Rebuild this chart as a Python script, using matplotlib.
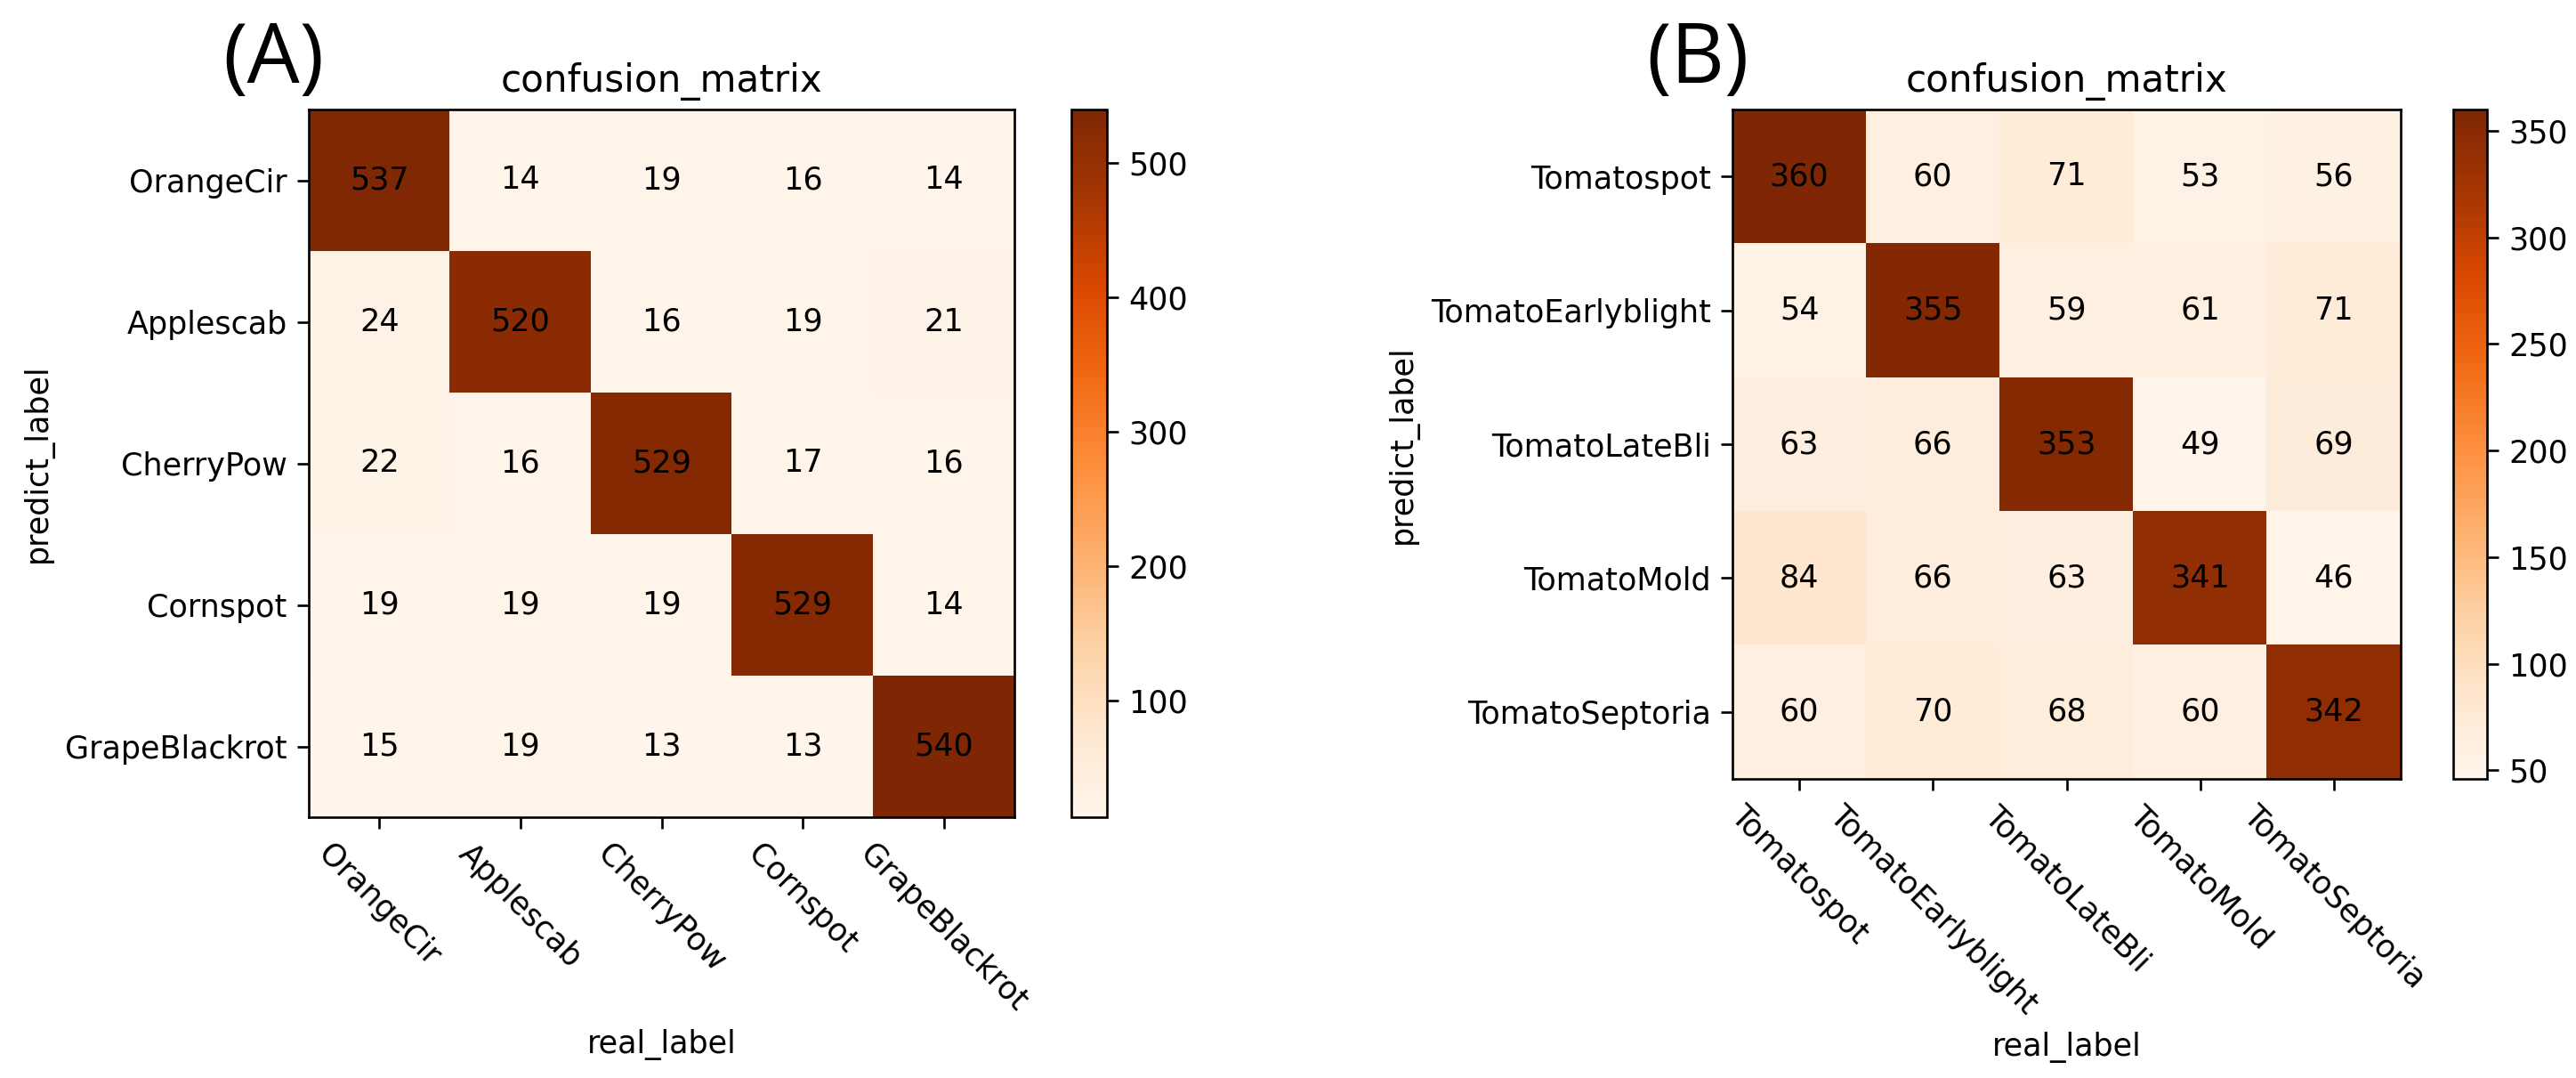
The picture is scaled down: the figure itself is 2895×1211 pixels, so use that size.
import matplotlib
matplotlib.use("Agg")
import matplotlib.pyplot as plt
import numpy as np

# ---- data ----
classes_a = ["OrangeCir", "Applescab", "CherryPow", "Cornspot", "GrapeBlackrot"]
cm_a_row0 = [537, 14, 19, 16, 14]
cm_a_row1 = [24, 520, 16, 19, 21]
cm_a_row2 = [22, 16, 529, 17, 16]
cm_a_row3 = [19, 19, 19, 529, 14]
cm_a_row4 = [15, 19, 13, 13, 540]

classes_b = ["Tomatospot", "TomatoEarlyblight", "TomatoLateBli", "TomatoMold", "TomatoSeptoria"]
cm_b_row0 = [360, 60, 71, 53, 56]
cm_b_row1 = [54, 355, 59, 61, 71]
cm_b_row2 = [63, 66, 353, 49, 69]
cm_b_row3 = [84, 66, 63, 341, 46]
cm_b_row4 = [60, 70, 68, 60, 342]

panel_labels = ["(A)", "(B)"]
title = "confusion_matrix"
xlabel = "real_label"
ylabel = "predict_label"

cm_a = np.array([cm_a_row0, cm_a_row1, cm_a_row2, cm_a_row3, cm_a_row4])
cm_b = np.array([cm_b_row0, cm_b_row1, cm_b_row2, cm_b_row3, cm_b_row4])

plt.rcParams["font.size"] = 10.5
plt.rcParams["axes.titlesize"] = 12.6
plt.rcParams["xtick.major.size"] = 3.8
plt.rcParams["ytick.major.size"] = 3.8

W, H = 2895, 1211
DPI = 240
fig = plt.figure(figsize=(W / DPI, H / DPI), dpi=DPI)


def frac(x0, y0, x1, y1):
    return [x0 / W, 1 - y1 / H, (x1 - x0) / W, (y1 - y0) / H]


def draw(cm, classes, ax_box, cb_box):
    ax = fig.add_axes(frac(*ax_box))
    cax = fig.add_axes(frac(*cb_box))
    im = ax.imshow(cm, interpolation="nearest", cmap="Oranges", aspect="auto")
    ax.set_title(title)
    fig.colorbar(im, cax=cax)
    ticks = np.arange(len(classes))
    ax.set_xticks(ticks)
    ax.set_xticklabels(classes, rotation=-45)
    ax.set_yticks(ticks)
    ax.set_yticklabels(classes)
    for i in range(cm.shape[0]):
        for j in range(cm.shape[1]):
            ax.text(j, i, str(cm[i, j]), ha="center", va="center", color="black")
    ax.set_xlabel(xlabel)
    ax.set_ylabel(ylabel)
    return ax


draw(cm_a, classes_a, (347, 123, 1140, 918), (1204, 123, 1244, 918))
draw(cm_b, classes_b, (1947, 123, 2698, 875), (2757, 123, 2795, 875))

fig.text(307 / W, 1 - 68 / H, panel_labels[0], fontsize=28, family="Open Sans",
         ha="center", va="center")
fig.text(1908 / W, 1 - 68 / H, panel_labels[1], fontsize=28, family="Open Sans",
         ha="center", va="center")

fig.savefig("out.png", dpi=DPI, facecolor="white")
